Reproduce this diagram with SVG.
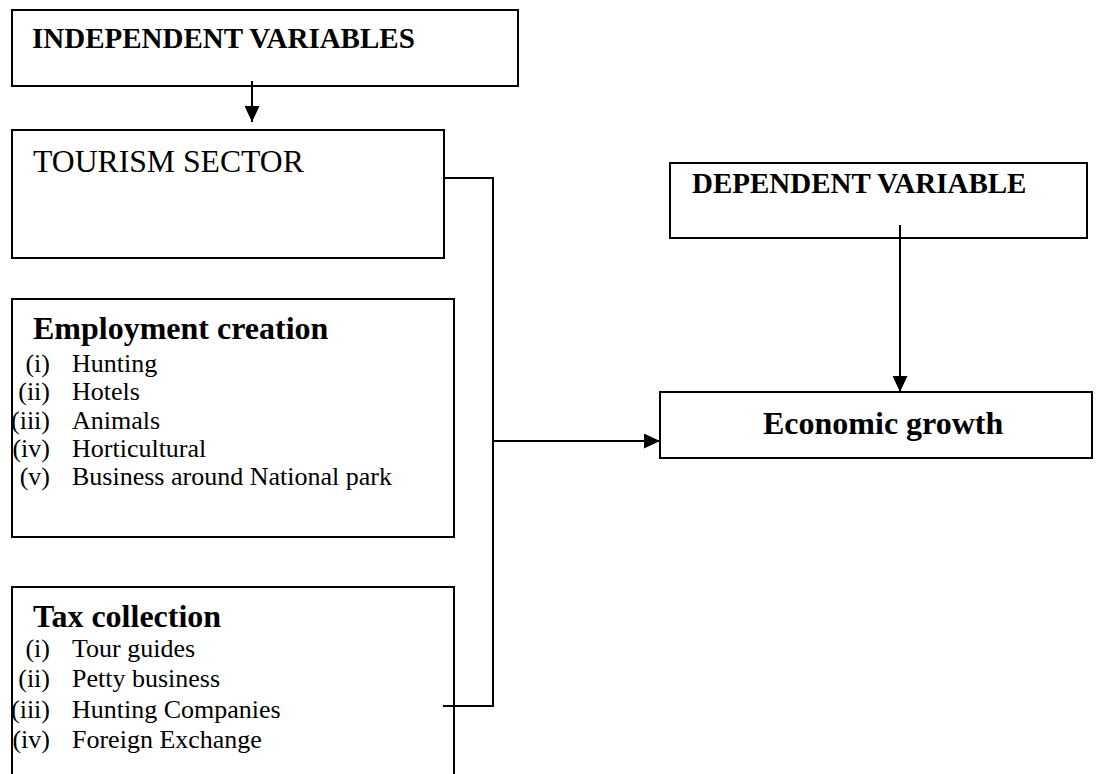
<svg xmlns="http://www.w3.org/2000/svg" width="1104" height="774" viewBox="0 0 1104 774">
<style>
.box{fill:#fff;stroke:#000;stroke-width:2}
.ln{fill:none;stroke:#000;stroke-width:2}
.t{font-family:"Liberation Serif","Times New Roman",serif;fill:#000}
.b{font-weight:bold}
.h{font-size:32px;font-weight:bold}
.it{font-size:26px}
</style>
<defs>
<marker id="ah" markerUnits="userSpaceOnUse" markerWidth="16" markerHeight="15" refX="16" refY="7.5" orient="auto">
<path d="M0,0 L16,7.5 L0,15 z" fill="#000"/>
</marker>
</defs>
<rect width="1104" height="774" fill="#fff"/>
<g id="independent">
<rect class="box" x="12" y="10" width="506" height="76"/>
<text class="t b" x="32" y="48" font-size="29">INDEPENDENT VARIABLES</text>
</g>
<g id="tourism">
<rect class="box" x="12" y="130" width="432" height="128"/>
<text class="t" x="33" y="172" font-size="31.7">TOURISM SECTOR</text>
</g>
<g id="employment">
<rect class="box" x="12" y="299" width="442" height="238"/>
<text class="t h" x="33" y="339">Employment creation</text>
<g class="t it">
<text x="50" y="372" text-anchor="end">(i)</text><text x="72" y="372">Hunting</text>
<text x="50" y="400" text-anchor="end">(ii)</text><text x="72" y="400">Hotels</text>
<text x="50" y="428.5" text-anchor="end">(iii)</text><text x="72" y="428.5">Animals</text>
<text x="50" y="457" text-anchor="end">(iv)</text><text x="72" y="457">Horticultural</text>
<text x="50" y="485" text-anchor="end">(v)</text><text x="72" y="485">Business around National park</text>
</g>
</g>
<g id="tax">
<rect class="box" x="12" y="587" width="442" height="200"/>
<text class="t h" x="33" y="627">Tax collection</text>
<g class="t it">
<text x="50" y="657" text-anchor="end">(i)</text><text x="72" y="657">Tour guides</text>
<text x="50" y="687" text-anchor="end">(ii)</text><text x="72" y="687">Petty business</text>
<text x="50" y="718" text-anchor="end">(iii)</text><text x="72" y="718">Hunting Companies</text>
<text x="50" y="748" text-anchor="end">(iv)</text><text x="72" y="748">Foreign Exchange</text>
</g>
</g>
<g id="dependent">
<rect class="box" x="670" y="163" width="417" height="75"/>
<text class="t b" x="692" y="193" font-size="29">DEPENDENT VARIABLE</text>
</g>
<g id="economic">
<rect class="box" x="660" y="392" width="432" height="66"/>
<text class="t h" x="763" y="434">Economic growth</text>
</g>
<g id="connectors">
<line class="ln" x1="252" y1="81" x2="252" y2="122" marker-end="url(#ah)"/>
<polyline class="ln" points="444,178 493,178 493,706 443,706"/>
<line class="ln" x1="493" y1="441" x2="660" y2="441" marker-end="url(#ah)"/>
<line class="ln" x1="900" y1="225" x2="900" y2="392" marker-end="url(#ah)"/>
</g>
</svg>
